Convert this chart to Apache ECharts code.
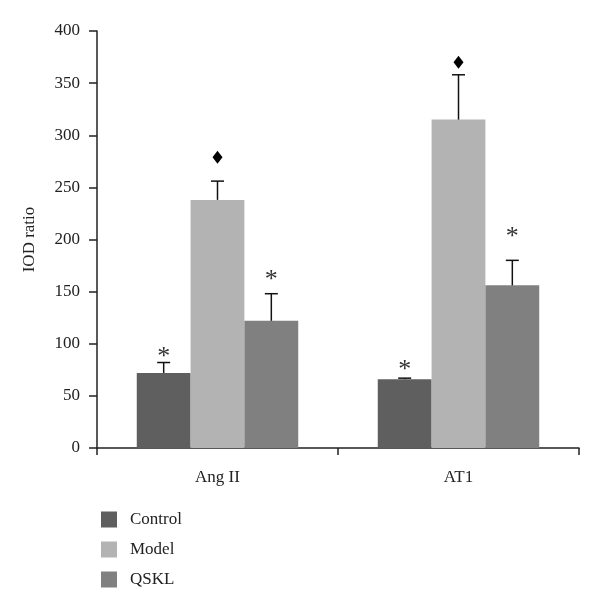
<!DOCTYPE html>
<html><head><meta charset="utf-8">
<script src="https://cdn.jsdelivr.net/npm/echarts@6/dist/echarts.min.js"></script>
<style>html,body{margin:0;padding:0;background:#fff}#c{width:600px;height:612px}</style>
</head><body><div id="c"></div>
<script>
const categories = ['Ang II', 'AT1'];
const seriesNames = ['Control', 'Model', 'QSKL'];
const controlVals = [72, 66];
const modelVals = [238, 315];
const qsklVals = [122, 156];
// upper ends of the error bars
const controlErr = [82, 67];
const modelErr = [256, 358];
const qsklErr = [148, 180];
// significance marks: [category index, series index, value, kind]
const marks = [
  [0, 0, 93, 'star'], [0, 1, 279, 'diamond'], [0, 2, 167, 'star'],
  [1, 0, 80, 'star'], [1, 1, 370, 'diamond'], [1, 2, 208, 'star']
];
const yTicks = [0, 50, 100, 150, 200, 250, 300, 350, 400];
const colors = ['#5f5f5f', '#b3b3b3', '#808080'];
const gapFrac = 0.33;
const FONT = '"Liberation Serif", "DejaVu Serif", serif';

const vals = [controlVals, modelVals, qsklVals];
const errs = [controlErr, modelErr, qsklErr];
const errData = [];
errs.forEach((arr, s) => arr.forEach((v, c) => errData.push([c, s, vals[s][c], v])));

function offsetX(api, c, s) {
  const center = api.coord([c, 0]);
  const bw = api.size([1, 0])[0] * (1 - gapFrac) / 3;
  return center[0] + (s - 1) * bw;
}

const chart = echarts.init(document.getElementById('c'));
chart.setOption({
  animation: false,
  textStyle: { fontFamily: FONT },
  grid: { left: 97, right: 21, top: 31, bottom: 164 },
  legend: {
    orient: 'vertical', left: 96, top: 506,
    itemWidth: 16, itemHeight: 16, itemGap: 13,
    icon: 'rect',
    textStyle: { fontFamily: FONT, fontSize: 17, color: '#222', padding: [0, 0, 0, 8] },
    data: seriesNames
  },
  xAxis: {
    type: 'category', data: categories,
    axisLine: { lineStyle: { color: '#222', width: 1.5 } },
    axisTick: { show: true, length: 7, lineStyle: { color: '#222', width: 1.5 } },
    axisLabel: { fontFamily: FONT, fontSize: 17, color: '#222', margin: 21 }
  },
  yAxis: {
    type: 'value', min: 0, max: 400, interval: 50,
    name: 'IOD ratio', nameLocation: 'middle', nameGap: 59,
    nameTextStyle: { fontFamily: FONT, fontSize: 17, color: '#222' },
    axisLine: { show: true, lineStyle: { color: '#222', width: 1.5 } },
    axisTick: { show: true, length: 8, lineStyle: { color: '#222', width: 1.5 } },
    axisLabel: { fontFamily: FONT, fontSize: 17, color: '#222', margin: 17 },
    splitLine: { show: false }
  },
  series: [
    ...seriesNames.map((n, s) => ({
      name: n, type: 'bar', data: vals[s], barGap: 0, barCategoryGap: (gapFrac * 100) + '%',
      itemStyle: { color: colors[s] }
    })),
    {
      type: 'custom', silent: true, z: 5,
      data: errData,
      renderItem(params, api) {
        const c = api.value(0), s = api.value(1);
        const x = offsetX(api, c, s);
        const yb = api.coord([c, api.value(2)])[1];
        const yt = api.coord([c, api.value(3)])[1];
        const cap = 6.5;
        return { type: 'group', children: [
          { type: 'line', shape: { x1: x, y1: yb, x2: x, y2: yt }, style: { stroke: '#111', lineWidth: 1.5 } },
          { type: 'line', shape: { x1: x - cap, y1: yt, x2: x + cap, y2: yt }, style: { stroke: '#111', lineWidth: 1.5 } }
        ]};
      }
    },
    {
      type: 'custom', silent: true, z: 6,
      data: marks,
      renderItem(params, api) {
        const c = api.value(0), s = api.value(1);
        const x = offsetX(api, c, s);
        const y = api.coord([c, api.value(2)])[1];
        const kind = marks[params.dataIndex][3];
        if (kind === 'diamond') {
          return { type: 'polygon', shape: { points: [[x, y - 6.5], [x + 5, y], [x, y + 6.5], [x - 5, y]] }, style: { fill: '#000' } };
        }
        return { type: 'text', style: { text: '*', x: x, y: y + 6, align: 'center', verticalAlign: 'middle', font: '26px ' + FONT, fill: '#333' } };
      }
    }
  ]
});
</script></body></html>
